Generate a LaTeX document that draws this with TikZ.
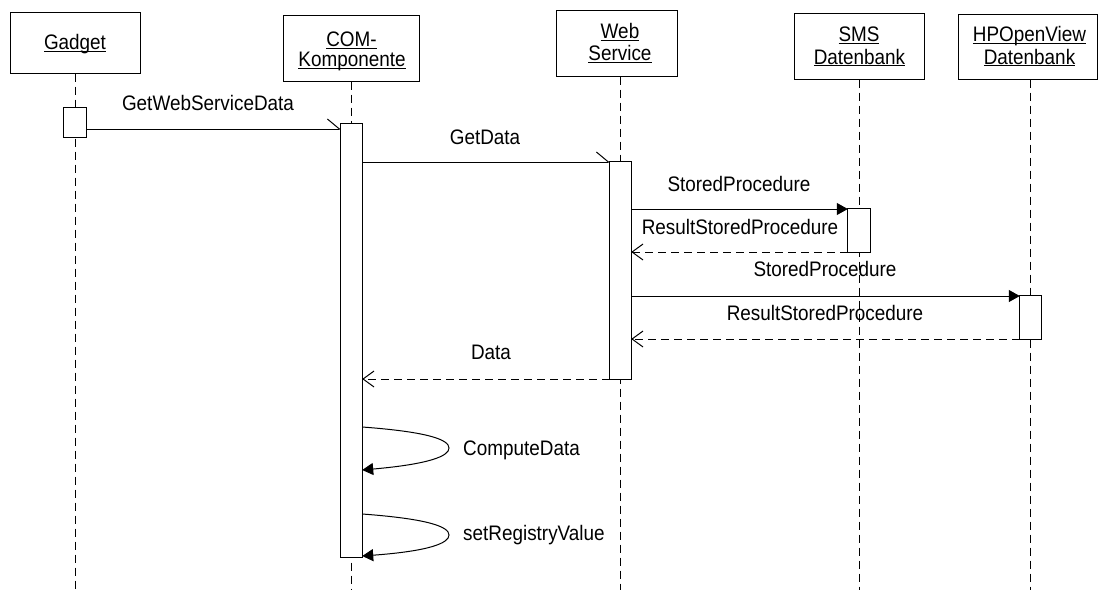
\documentclass[tikz,border=0pt]{standalone}
\usepackage{fontspec}
\setmainfont{Liberation Sans}[FakeStretch=0.9]
\usetikzlibrary{arrows.meta}
% underline that sits just below the baseline
\newcommand\ulword[1]{\setbox0\hbox{#1}\rlap{\rule[-2.3pt]{\wd0}{1pt}}\box0}

\tikzset{
  every node/.style={font=\fontsize{21}{24}\selectfont, inner sep=0pt},
  objbox/.style={draw, fill=white, rectangle, line width=1pt},
  act/.style={draw, fill=white, rectangle, line width=1pt},
  lifeline/.style={line width=1pt, dash pattern=on 8pt off 5pt},
  msg/.style={line width=1pt},
  asyncmsg/.style={msg, -{Straight Barb[left,length=12pt,width=20pt,line width=1pt]}},
  callmsg/.style={msg, -{Triangle[length=11pt,width=12pt]}},
  retmsg/.style={msg, dash pattern=on 8pt off 5pt, -{Straight Barb[length=11pt,width=16pt,line width=1pt]}},
  selfmsg/.style={msg, -{Triangle[length=11pt,width=12pt]}},
  lbl/.style={anchor=base},
  lblw/.style={anchor=base west}
}

\begin{document}
\begin{tikzpicture}[x=1pt, y=-1pt]
\useasboundingbox (0,0) rectangle (1098,590);

% object boxes
\node[objbox, minimum width=130pt, minimum height=61pt] (gadget) at (75,42.5) {};
\node[objbox, minimum width=136pt, minimum height=66pt] (com) at (351,48) {};
\node[objbox, minimum width=121pt, minimum height=66pt] (web) at (616.5,43) {};
\node[objbox, minimum width=130pt, minimum height=66pt] (sms) at (859,46) {};
\node[objbox, minimum width=139pt, minimum height=65pt] (hp) at (1027.5,46.5) {};

% object names
\node[lbl] (gadgetL) at (75,49.5) {\ulword{Gadget}};
\node[lbl] (comL1) at (351.5,46.5) {\ulword{COM-}};
\node[lbl] (comL2) at (352,66.7) {\ulword{Komponente}};
\node[lbl] (webL1) at (620,38.5) {\ulword{Web}};
\node[lbl] (webL2) at (620,60.5) {\ulword{Service}};
\node[lbl] (smsL1) at (859,41.7) {\ulword{SMS}};
\node[lbl] (smsL2) at (859.5,64) {\ulword{Datenbank}};
\node[lbl] (hpL1) at (1029.5,41.7) {\ulword{HPOpenView}};
\node[lbl] (hpL2) at (1029.5,64) {\ulword{Datenbank}};

% activation bars (placed first so the lifelines can refer to them)
\path
  (75,122.5)    node[minimum width=22pt, minimum height=29pt]  (gadgetAct) {}
  (351.5,340.5) node[minimum width=21pt, minimum height=433pt] (comAct) {}
  (620.5,270.5) node[minimum width=21pt, minimum height=217pt] (webAct) {}
  (859,230.5)   node[minimum width=22pt, minimum height=43pt]  (smsAct) {}
  (1030.5,317.5) node[minimum width=21pt, minimum height=43pt] (hpAct) {};

% lifelines
\draw[lifeline] (gadgetAct |- gadget.south) -- (gadgetAct |- 0,590);
\draw[lifeline] (comAct |- com.south) -- (comAct |- 0,590);
\draw[lifeline] (webAct |- web.south) -- (webAct |- 0,590);
\draw[lifeline] (smsAct |- sms.south) -- (smsAct |- 0,590);
\draw[lifeline] (hpAct |- hp.south) -- (hpAct |- 0,590);

% activation outlines over the lifelines
\foreach \a in {gadgetAct,comAct,webAct,smsAct,hpAct}
  \draw[act] (\a.south west) rectangle (\a.north east);

% messages
\draw[asyncmsg] (gadgetAct.east |- 0,129) -- (comAct.west |- 0,129);
\draw[asyncmsg] (comAct.east |- 0,162) -- (webAct.west |- 0,162);
\draw[callmsg] (webAct.east |- 0,209) -- (smsAct.west |- 0,209);
\draw[retmsg] (smsAct.west |- 0,252) -- (webAct.east |- 0,252);
\draw[callmsg] (webAct.east |- 0,296) -- (hpAct.west |- 0,296);
\draw[retmsg] (hpAct.west |- 0,339) -- (webAct.east |- 0,339);
\draw[retmsg] (webAct.west |- 0,379) -- (comAct.east |- 0,379);
\draw[selfmsg] (comAct.east |- 0,427) .. controls (430,432) and (449,440) .. (449,448)
  .. controls (449,456) and (430,464) .. (comAct.east |- 0,470);
\draw[selfmsg] (comAct.east |- 0,514) .. controls (430,519) and (449,527) .. (449,535)
  .. controls (449,543) and (430,551) .. (comAct.east |- 0,556);

% message labels
\node[lbl] (m1L) at (208,110) {GetWebServiceData};
\node[lbl] (m2L) at (485,144) {GetData};
\node[lbl] (m3L) at (739,191.5) {StoredProcedure};
\node[lbl] (m4L) at (740,234) {ResultStoredProcedure};
\node[lbl] (m5L) at (825,276.5) {StoredProcedure};
\node[lbl] (m6L) at (825,320) {ResultStoredProcedure};
\node[lbl] (m7L) at (491,359.5) {Data};
\node[lblw] (m8L) at (463,455) {ComputeData};
\node[lblw] (m9L) at (463,540) {setRegistryValue};
\end{tikzpicture}
\end{document}
